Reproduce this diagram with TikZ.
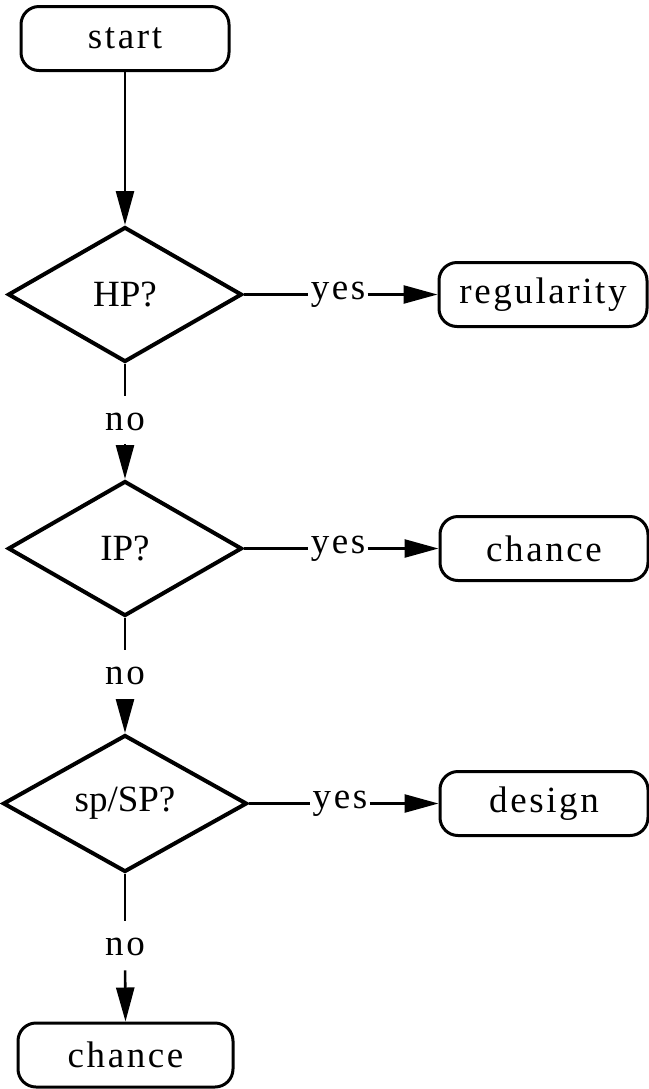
\documentclass[tikz,border=0pt]{standalone}
\usepackage{fontspec}
\setmainfont{Liberation Serif}
\usetikzlibrary{shapes.geometric,arrows.meta,positioning}

\newcommand\flowfont{\fontsize{18.5}{22}\selectfont}
\newcommand\wordfont{\flowfont\addfontfeature{LetterSpace=7}}

\tikzset{
  term/.style={rectangle, rounded corners=9pt, draw, line width=1.5pt,
    minimum width=104pt, minimum height=32pt, inner sep=0pt, font=\wordfont},
  decide/.style={diamond, draw, line width=2pt, aspect=1.7, inner sep=0pt,
    minimum width=117pt, minimum height=67.5pt, font=\flowfont},
  yeslbl/.style={inner xsep=1pt, inner ysep=0pt, font=\wordfont},
  nolbl/.style={inner sep=0pt, font=\wordfont},
  wire/.style={line width=1.3pt},
  flow/.style={wire, -{Triangle[length=17pt,width=9pt]}}
}

\begin{document}
\begin{tikzpicture}[x=0.5pt, y=-0.5pt]
\useasboundingbox (0,0) rectangle (649,1089);

%% main column
\node[term] (start) at (125, 38.5) {start};
\node[decide] (hp) at (125, 294.5) {HP?};
\node[nolbl] (no1) at (125, 422) {no};
\node[decide] (ip) at (125, 548.5) {IP?};
\node[nolbl] (no2) at (125, 676) {no};
\node[decide, minimum width=122pt, minimum height=68.5pt] (sp) at (125, 803.5) {sp/SP?};
\node[nolbl] (no3) at (125, 947) {no};
\node[term, minimum width=107.5pt] (chanceB) at (125.5, 1055) {chance};

%% outcomes on the right
\node[yeslbl] (yes1) at (338, 294.5) {yes};
\node[term] (regular) at (543, 294.5) {regularity};
\node[yeslbl] (yes2) at (338, 548.5) {yes};
\node[term] (chanceA) at (544, 548.5) {chance};
\node[yeslbl] (yes3) at (340, 803.5) {yes};
\node[term] (design) at (544, 803.5) {design};

%% connectors
\draw[flow] (start) -- (hp);

\draw[wire, shorten >=8.5pt] (hp.south) -- (no1.north);
\draw[flow, shorten <=6.5pt] (no1.south) -- (ip.north);
\draw[wire, shorten >=8.5pt] (ip.south) -- (no2.north);
\draw[flow, shorten <=7pt] (no2.south) -- (sp.north);
\draw[wire, shorten >=8.5pt] (sp.south) -- (no3.north);
\draw[flow, shorten <=7pt] (no3.south) -- (chanceB.north);

\draw[wire] (hp.east) -- (yes1.west);
\draw[flow] (yes1.east) -- (regular.west);
\draw[wire] (ip.east) -- (yes2.west);
\draw[flow] (yes2.east) -- (chanceA.west);
\draw[wire] (sp.east) -- (yes3.west);
\draw[flow] (yes3.east) -- (design.west);

\end{tikzpicture}
\end{document}
